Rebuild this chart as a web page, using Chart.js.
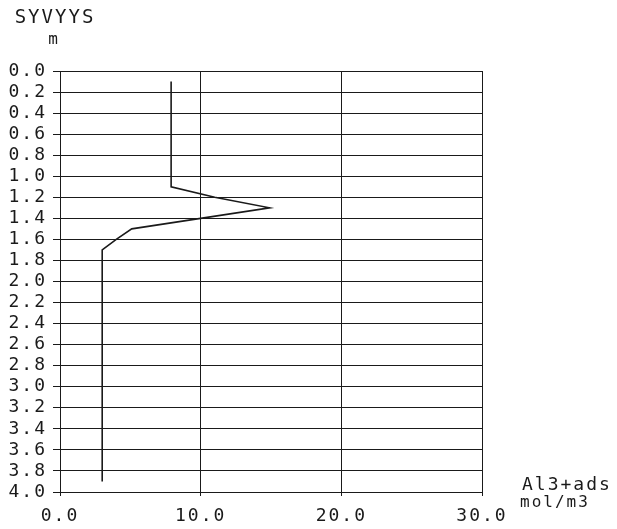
<!DOCTYPE html>
<html>
<head>
<meta charset="utf-8">
<script src="https://cdn.jsdelivr.net/npm/chart.js@4.4.0/dist/chart.umd.min.js"></script>
<style>
  html, body { margin: 0; padding: 0; background: #fff; }
  #wrap { width: 617px; height: 529px; }
</style>
</head>
<body>
<div id="wrap"><canvas id="profileChart"></canvas></div>
<script>
// depth profile (m) and adsorbed Al3+ (mol/m3)
const depths = [0.1, 1.1, 1.2, 1.3, 1.5, 1.6, 1.7, 3.9];
const alValues = [7.9, 7.9, 11.0, 14.9, 5.1, 4.0, 3.0, 3.0];

const yTitle = 'SYVYYS';
const yUnit = 'm';
const xTitle = 'Al3+ads';
const xUnit = 'mol/m3';

const FONT = "'DejaVu Sans Mono', monospace";
const INK = '#1a1a1a';

// wide letter spacing like the plotter font
const spacingPlugin = {
    id: 'spacing',
    beforeLayout(chart) { chart.ctx.letterSpacing = '2px'; },
    beforeDraw(chart) { chart.ctx.letterSpacing = '2px'; }
};

// axis titles / units drawn as text next to the axes
const axisText = {
    id: 'axisText',
    afterDraw(chart) {
        const ctx = chart.ctx;
        const area = chart.chartArea;
        ctx.save();
        ctx.letterSpacing = '2px';
        ctx.fillStyle = INK;
        ctx.textBaseline = 'middle';
        ctx.font = '19px ' + FONT;
        ctx.textAlign = 'center';
        ctx.fillText(yTitle, 55, 18);
        ctx.font = '16px ' + FONT;
        ctx.fillText(yUnit, 54, 40);
        ctx.textAlign = 'left';
        ctx.font = '18px ' + FONT;
        ctx.fillText(xTitle, area.right + 40, 485);
        ctx.font = '16px ' + FONT;
        ctx.fillText(xUnit, area.right + 38, 503);
        ctx.restore();
    }
};

const ctx = document.getElementById('profileChart').getContext('2d');
const profileChart = new Chart(ctx, {
    type: 'scatter',
    data: {
        datasets: [{
            label: xTitle,
            data: depths.map((d, i) => ({ x: alValues[i], y: d })),
            showLine: true,
            borderColor: INK,
            borderWidth: 1.6,
            pointRadius: 0,
            tension: 0
        }]
    },
    options: {
        responsive: true,
        maintainAspectRatio: false,
        animation: false,
        layout: { padding: { left: 0, top: 71, right: 135, bottom: 0 } },
        plugins: { legend: { display: false }, tooltip: { enabled: false } },
        scales: {
            x: {
                type: 'linear',
                min: 0,
                max: 30,
                afterFit(scale) { scale.height = 37; },
                border: { display: true, color: INK, width: 1 },
                grid: { color: INK, lineWidth: 1, tickLength: 4 },
                ticks: {
                    stepSize: 10,
                    color: INK,
                    font: { family: FONT, size: 18 },
                    padding: 10,
                    maxRotation: 0,
                    callback: v => v.toFixed(1)
                }
            },
            y: {
                type: 'linear',
                reverse: true,
                min: 0,
                max: 4,
                afterFit(scale) { scale.width = 60; },
                border: { display: true, color: INK, width: 1 },
                grid: { color: INK, lineWidth: 1, tickLength: 7 },
                ticks: {
                    stepSize: 0.2,
                    autoSkip: false,
                    maxTicksLimit: 30,
                    color: INK,
                    font: { family: FONT, size: 18 },
                    padding: 6,
                    callback: v => v.toFixed(1)
                }
            }
        }
    },
    plugins: [spacingPlugin, axisText]
});
</script>
</body>
</html>
